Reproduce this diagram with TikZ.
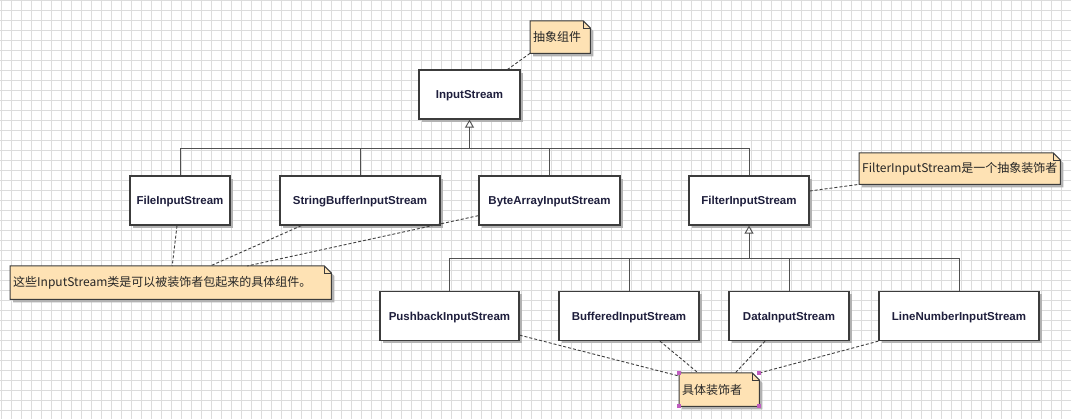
\documentclass[tikz,border=0pt]{standalone}
\usepackage{fontspec}
\setmainfont{Liberation Sans}
\newfontfamily\cjk{Noto Sans CJK SC}
\usetikzlibrary{arrows.meta,shadows}
\definecolor{gridgray}{HTML}{DCDCDC}
\definecolor{boxline}{HTML}{3C3C3C}
\definecolor{treeline}{HTML}{505050}
\definecolor{notefill}{HTML}{FEE2B4}
\definecolor{labelblue}{HTML}{1E1E3C}
\definecolor{handle}{HTML}{C05CC0}
\pgfdeclarelayer{grid}
\pgfdeclarelayer{notebg}
\pgfsetlayers{grid,notebg,main}

\begin{document}
\begin{tikzpicture}[x=1pt,y=-1pt,
	cls/.style={draw=boxline,line width=1.3pt,fill=white,minimum height=49pt,inner sep=0pt,
		text height=8.5pt,text depth=0pt,
		font=\fontsize{11.5}{13}\selectfont\bfseries,text=labelblue,
		drop shadow={shadow xshift=3pt,shadow yshift=-3pt,fill=black!30,opacity=1}},
	note/.style={anchor=north west,inner xsep=3pt,inner ysep=0pt,align=left,
		font=\cjk\fontsize{12}{14}\selectfont,text=black!85},
	fold/.style={draw=boxline,line width=1pt,fill=notefill,
		drop shadow={shadow xshift=3pt,shadow yshift=-3pt,fill=black!30,opacity=1}},
	foldline/.style={draw=boxline,line width=0.8pt},
	tree/.style={draw=treeline,line width=0.9pt},
	inherit/.style={tree,-{Triangle[open,length=8pt,width=9pt]}},
	noteline/.style={draw=black!75,line width=0.9pt,dash pattern=on 3pt off 2pt},
	gridline/.style={draw=gridgray,line width=0.8pt}]
%
	\useasboundingbox (0,0) rectangle (1071,419);
	\begin{pgfonlayer}{grid}
	\fill[white] (0,0) rectangle (1071,419);
	\foreach \gx in {1,11,...,1071} \draw[gridline] (\gx,0) -- (\gx,419);
	\foreach \gy in {0,10,...,410} \draw[gridline] (0,\gy) -- (1071,\gy);
	\end{pgfonlayer}
%
	\node[cls,minimum width=101pt] (input) at (469.5,94.5) {InputStream};
	\node[cls,minimum width=100pt] (file) at (180,200.5) {FileInputStream};
	\node[cls,minimum width=160pt] (string) at (360,200.5) {StringBufferInputStream};
	\node[cls,minimum width=141pt] (byte) at (549.5,200.5) {ByteArrayInputStream};
	\node[cls,minimum width=120pt] (filter) at (749,200.5) {FilterInputStream};
	\node[cls,minimum width=139pt] (push) at (449.5,316) {PushbackInputStream};
	\node[cls,minimum width=140pt] (buff) at (629,316) {BufferedInputStream};
	\node[cls,minimum width=120pt] (data) at (789,316) {DataInputStream};
	\node[cls,minimum width=160pt] (linenum) at (959,316) {LineNumberInputStream};
%
	\node[note,minimum width=60pt,minimum height=32pt,text width=54pt] (abstr) at (530,21) {抽象组件};
	\node[note,minimum width=201pt,minimum height=31pt,text width=195pt] (filtnote) at (859,153) {FilterInputStream是一个抽象装饰者};
	\node[note,minimum width=321pt,minimum height=33pt,text width=315pt] (compnote) at (10,266) {这些InputStream类是可以被装饰者包起来的具体组件。};
	\node[note,minimum width=80pt,minimum height=33pt,text width=74pt] (concnote) at (679,373) {具体装饰者};
	\begin{pgfonlayer}{notebg}
	\foreach \n in {abstr,filtnote,compnote,concnote}
		\path[fold] (\n.north west) -- ([xshift=-7pt]\n.north east) -- ([yshift=-7pt]\n.north east)
			-- (\n.south east) -- (\n.south west) -- cycle;
	\foreach \n in {abstr,filtnote,compnote,concnote}
		\path[foldline] ([xshift=-7pt]\n.north east) |- ([yshift=-7pt]\n.north east);
	\end{pgfonlayer}
%
	\coordinate (topjoin) at (469.5,148);
	\coordinate (lowjoin) at (749,258);
	\foreach \c in {file,string,byte,filter}
		\draw[tree] (\c.north) |- (topjoin);
	\draw[inherit] (topjoin) -- (input.south);
	\foreach \c in {push,buff,data,linenum}
		\draw[tree] (\c.north) |- (lowjoin);
	\draw[inherit] (lowjoin) -- (filter.south);
%
	\draw[noteline] (abstr.south west) -- ([xshift=-13pt]input.north east);
	\draw[noteline] ([yshift=9.5pt]filter.east) -- (filtnote.south west);
	\draw[noteline] ([xshift=-3pt]file.south) -- ([xshift=1.5pt]compnote.north);
	\draw[noteline] ([xshift=22pt]string.south west) -- ([xshift=39.5pt]compnote.north);
	\draw[noteline] ([yshift=10pt]byte.south west) -- ([xshift=76.5pt]compnote.north);
	\draw[noteline] ([yshift=6pt]push.south east) -- ([yshift=-3pt]concnote.north west);
	\draw[noteline] ([xshift=31pt]buff.south) -- ([xshift=-21pt]concnote.north);
	\draw[noteline] ([xshift=-24pt]data.south) -- ([xshift=16pt]concnote.north);
	\draw[noteline] (linenum.south west) -- (concnote.north east);
%
	\foreach \c in {north west,north east,south west,south east}
		\fill[handle] ([shift={(-2pt,-2pt)}]concnote.\c) rectangle ([shift={(2pt,2pt)}]concnote.\c);
\end{tikzpicture}
\end{document}
